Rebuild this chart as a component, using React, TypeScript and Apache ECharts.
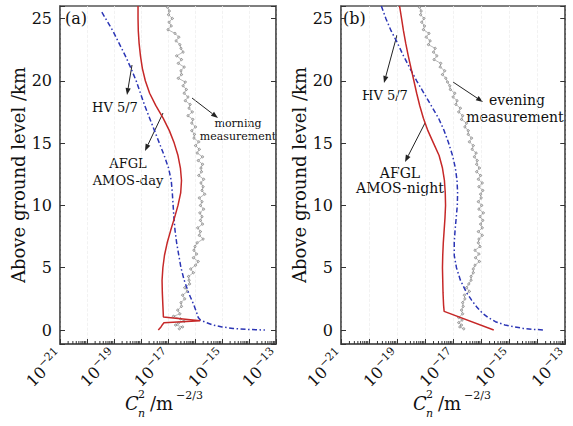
import React, { useEffect, useRef } from "react";
import * as echarts from "echarts";

// ---- data (heights in km, values as log10 of Cn2 in m^-2/3) ----
const redA_h = [26, 25, 24, 23, 22, 21, 20, 19, 18, 17, 16, 15, 14, 13, 12, 11, 10, 9, 8, 7, 6, 5, 4, 3, 2, 1.05, 0.75, 0.58, 0.45, 0.25, 0.0];
const redA_v = [-18.11, -18.11, -18.1, -18.07, -18.02, -17.95, -17.84, -17.68, -17.45, -17.18, -16.95, -16.77, -16.63, -16.54, -16.5, -16.53, -16.63, -16.76, -16.9, -17.03, -17.13, -17.19, -17.22, -17.21, -17.19, -17.17, -15.81, -17.15, -17.2, -17.26, -17.36];

const blueA_h = [25.5, 24, 23, 22, 21, 20, 19, 18, 17, 16, 15, 14, 13, 12, 11, 10, 9, 8, 7, 6, 5, 4, 3, 2, 1.4, 1.0, 0.8, 0.6, 0.4, 0.25, 0.13, 0.05, 0.0];
const blueA_v = [-19.45, -19.04, -18.81, -18.58, -18.37, -18.18, -18.02, -17.86, -17.68, -17.5, -17.32, -17.14, -16.98, -16.88, -16.84, -16.81, -16.78, -16.74, -16.68, -16.6, -16.52, -16.4, -16.24, -16.04, -15.94, -15.88, -15.8, -15.58, -15.33, -15.0, -14.59, -14.1, -13.41];

const morning_h = [25.9, 25.6, 25.3, 25.0, 24.7, 24.4, 24.1, 23.8, 23.5, 23.2, 22.9, 22.6, 22.3, 22.0, 21.7, 21.4, 21.1, 20.8, 20.5, 20.2, 19.9, 19.6, 19.3, 19.0, 18.7, 18.4, 18.1, 17.8, 17.5, 17.2, 16.9, 16.6, 16.3, 16.0, 15.7, 15.4, 15.1, 14.8, 14.5, 14.2, 13.9, 13.6, 13.3, 13.0, 12.7, 12.4, 12.1, 11.8, 11.5, 11.2, 10.9, 10.6, 10.3, 10.0, 9.7, 9.4, 9.1, 8.8, 8.5, 8.2, 7.9, 7.6, 7.3, 7.0, 6.7, 6.4, 6.1, 5.8, 5.5, 5.2, 4.9, 4.6, 4.3, 4.0, 3.7, 3.4, 3.1, 2.8, 2.5, 2.2, 1.9, 1.6, 1.3, 1.1, 0.9, 0.7, 0.55, 0.4, 0.25, 0.1];
const morning_v = [-17.02, -16.95, -16.98, -16.84, -16.96, -16.88, -17.0, -16.74, -16.6, -16.7, -16.56, -16.52, -16.44, -16.68, -16.5, -16.62, -16.4, -16.52, -16.5, -16.62, -16.36, -16.44, -16.32, -16.4, -16.26, -16.36, -16.18, -16.22, -16.1, -16.26, -16.08, -16.12, -15.98, -16.12, -16.02, -16.04, -15.86, -15.98, -15.84, -15.92, -15.72, -15.88, -15.72, -15.78, -15.76, -15.86, -15.68, -15.78, -15.7, -15.74, -15.64, -15.84, -15.74, -15.8, -15.68, -15.82, -15.74, -15.8, -15.72, -15.9, -15.8, -15.84, -15.7, -15.92, -16.0, -16.04, -15.94, -16.06, -15.88, -15.98, -16.16, -16.06, -16.24, -16.22, -16.2, -16.38, -16.28, -16.46, -16.38, -16.52, -16.5, -16.64, -16.56, -16.8, -16.54, -16.4, -16.62, -16.72, -16.46, -16.58];

const redB_h = [26, 25, 24, 23, 22, 21, 20, 19, 18, 17, 16, 15, 14, 13, 12, 11, 10, 9, 8, 7, 6, 5, 4, 3, 2, 1.5, 0.0];
const redB_v = [-18.91, -18.84, -18.77, -18.69, -18.6, -18.5, -18.4, -18.3, -18.19, -18.06, -17.9, -17.7, -17.5, -17.38, -17.31, -17.28, -17.27, -17.29, -17.32, -17.35, -17.37, -17.38, -17.37, -17.36, -17.34, -17.32, -15.55];

const blueB_h = [26, 25, 24, 23, 22, 21, 20, 19, 18, 17, 16, 15, 14, 13, 12, 11, 10, 9, 8, 7, 6, 5, 4, 3, 2.4, 1.8, 1.35, 1.0, 0.67, 0.4, 0.25, 0.13, 0.05, 0.0];
const blueB_v = [-19.56, -19.4, -19.21, -18.98, -18.77, -18.54, -18.3, -18.04, -17.78, -17.52, -17.32, -17.16, -17.02, -16.92, -16.86, -16.84, -16.85, -16.89, -16.93, -16.96, -16.96, -16.88, -16.74, -16.52, -16.34, -16.14, -15.95, -15.75, -15.49, -15.15, -14.8, -14.5, -14.1, -13.71];

const evening_h = [25.9, 25.6, 25.3, 25.0, 24.7, 24.4, 24.1, 23.8, 23.5, 23.2, 22.9, 22.6, 22.3, 22.0, 21.7, 21.4, 21.1, 20.8, 20.5, 20.2, 19.9, 19.6, 19.3, 19.0, 18.7, 18.4, 18.1, 17.8, 17.5, 17.2, 16.9, 16.6, 16.3, 16.0, 15.7, 15.4, 15.1, 14.8, 14.5, 14.2, 13.9, 13.6, 13.3, 13.0, 12.7, 12.4, 12.1, 11.8, 11.5, 11.2, 10.9, 10.6, 10.3, 10.0, 9.7, 9.4, 9.1, 8.8, 8.5, 8.2, 7.9, 7.6, 7.3, 7.0, 6.7, 6.4, 6.1, 5.8, 5.5, 5.2, 4.9, 4.6, 4.3, 4.0, 3.7, 3.4, 3.1, 2.8, 2.5, 2.2, 1.9, 1.6, 1.3, 1.0, 0.8, 0.6, 0.4, 0.25, 0.1];
const evening_v = [-18.2, -18.14, -18.16, -18.04, -18.12, -18.02, -18.06, -17.86, -17.96, -17.82, -17.88, -17.64, -17.7, -17.58, -17.68, -17.44, -17.46, -17.3, -17.38, -17.26, -17.2, -17.12, -17.1, -16.94, -17.0, -16.86, -16.9, -16.74, -16.8, -16.66, -16.7, -16.52, -16.58, -16.46, -16.46, -16.34, -16.42, -16.28, -16.32, -16.18, -16.24, -16.14, -16.16, -16.06, -16.16, -16.02, -16.1, -15.96, -16.08, -15.94, -16.02, -16.0, -16.1, -15.98, -16.08, -15.92, -16.04, -15.94, -16.02, -15.96, -16.1, -15.96, -16.08, -16.1, -16.04, -16.22, -16.08, -16.2, -16.06, -16.22, -16.28, -16.28, -16.36, -16.36, -16.44, -16.52, -16.42, -16.6, -16.58, -16.66, -16.64, -16.7, -16.66, -16.8, -16.68, -16.8, -16.7, -16.76, -16.62];

const yTickValues = [0, 5, 10, 15, 20, 25];
const X_MIN_EXP = -21;
const X_MAX_EXP = -13;
const minorMultipliers = [2, 3, 4, 5, 6, 7, 8, 9];

// values are plotted in units of 1e-21 m^-2/3 to stay within float rounding limits
const OFFSET = -X_MIN_EXP;
const Y_MIN = -1.12;
const Y_MAX = 26;
const FONT = "DejaVu Serif";

function pairs(h: number[], v: number[]) {
  return h.map((hh, i) => [Math.pow(10, v[i] + OFFSET), hh]);
}

function minorTickData() {
  const out: number[][] = [];
  for (let e = X_MIN_EXP; e < X_MAX_EXP; e++) {
    minorMultipliers.forEach((m) => out.push([m * Math.pow(10, e + OFFSET), Y_MIN]));
  }
  return out;
}

function arrow(x1: number, y1: number, x2: number, y2: number) {
  const a = Math.atan2(y2 - y1, x2 - x1);
  const L = 7, W = 2.6;
  const bx = x2 - L * Math.cos(a), by = y2 - L * Math.sin(a);
  const px = -Math.sin(a), py = Math.cos(a);
  return [
    { type: "line", silent: true, shape: { x1, y1, x2: bx, y2: by }, style: { stroke: "#222", lineWidth: 1 } },
    { type: "polygon", silent: true, shape: { points: [[x2, y2], [bx + W * px, by + W * py], [bx - W * px, by - W * py]] }, style: { fill: "#222" } },
  ];
}

function txt(x: number, y: number, text: string, size: number, extra: any = {}) {
  return {
    type: "text",
    x,
    y,
    silent: true,
    style: { text, fontSize: size, fontFamily: FONT, fill: "#111", align: "center", verticalAlign: "middle", ...extra },
  };
}

function xName(x0: number) {
  return [
    txt(x0, 403, "C", 18, { fontStyle: "italic", align: "left" }),
    txt(x0 + 13, 394, "2", 11, { align: "left" }),
    txt(x0 + 13, 413, "n", 11, { fontStyle: "italic", align: "left" }),
    txt(x0 + 25, 403, "/m", 18, { align: "left" }),
    txt(x0 + 51, 395, "\u22122/3", 11, { align: "left" }),
  ];
}

export default function App() {
  const ref = useRef<HTMLDivElement>(null);
  useEffect(() => {
    if (!ref.current) return;
    const chart = echarts.init(ref.current, null, { renderer: "svg" });

    const grids = [
      { left: 60, top: 6, width: 216, height: 338 },
      { left: 341, top: 6, width: 226, height: 338 },
    ];

    const xAxes = [0, 1].map((i) => ({
      type: "log",
      logBase: 10,
      gridIndex: i,
      min: Math.pow(10, X_MIN_EXP + OFFSET),
      max: Math.pow(10, X_MAX_EXP + OFFSET),
      splitNumber: 8,
      axisLine: { show: true, onZero: false, lineStyle: { color: "#555", width: 1.5 } },
      axisTick: { show: true, inside: true, length: 5, lineStyle: { color: "#333" } },
      splitLine: { show: true, lineStyle: { color: "#efefef", type: "dashed", width: 0.8 } },
      axisLabel: {
        rotate: 45,
        margin: 9,
        showMinLabel: true,
        showMaxLabel: true,
        formatter: (v: number) => {
          const e = Math.round(Math.log10(v)) - OFFSET;
          if (Math.abs(e) % 2 !== 1) return "";
          return "{b|10}{s|\u2212" + Math.abs(e) + "}";
        },
        rich: {
          b: { fontSize: 16, fontFamily: FONT, color: "#111", lineHeight: 22 },
          s: { fontSize: 11, fontFamily: FONT, color: "#111", verticalAlign: "top", lineHeight: 12 },
        },
      },
    }));

    const yAxes: any[] = [];
    [0, 1].forEach((i) => {
      yAxes.push({
        type: "value",
        gridIndex: i,
        min: Y_MIN,
        max: Y_MAX,
        splitNumber: 5,
        name: "Above ground level /km",
        nameLocation: "middle",
        nameGap: i === 0 ? 24 : 30,
        nameTextStyle: { fontSize: 18, fontFamily: FONT, color: "#111" },
        axisLine: { show: true, onZero: false, lineStyle: { color: "#555", width: 1.5 } },
        axisTick: { show: true, inside: true, length: 5, lineStyle: { color: "#333" } },
        splitLine: { show: false },
        axisLabel: {
          fontSize: 16,
          fontFamily: FONT,
          color: "#111",
          margin: 8,
          formatter: (v: number) => (yTickValues.indexOf(v) >= 0 ? String(v) : ""),
        },
      });
      yAxes.push({
        type: "value",
        gridIndex: i,
        position: "right",
        min: Y_MIN,
        max: Y_MAX,
        splitNumber: 5,
        axisLine: { show: true, onZero: false, lineStyle: { color: "#555", width: 1.5 } },
        axisTick: { show: true, inside: true, length: 5, lineStyle: { color: "#333" } },
        splitLine: { show: false },
        axisLabel: { show: false },
      });
    });

    const measStyle = {
      type: "line",
      symbol: "circle",
      symbolSize: 2.2,
      showSymbol: true,
      itemStyle: { color: "#ddd", borderColor: "#555", borderWidth: 0.5 },
      lineStyle: { color: "#999", width: 0.7 },
      z: 2,
    };
    const redStyle = { type: "line", showSymbol: false, lineStyle: { color: "#c62828", width: 1.5 }, z: 4 };
    const blueStyle = { type: "line", showSymbol: false, lineStyle: { color: "#2b35b5", width: 1.5, type: [5, 2.5, 1.5, 2.5] }, z: 3 };

    const minorTicks = (i: number) => ({
      type: "custom",
      xAxisIndex: i,
      yAxisIndex: i * 2,
      silent: true,
      z: 5,
      data: minorTickData(),
      renderItem: (params: any, api: any) => {
        const p = api.coord([api.value(0), api.value(1)]);
        return {
          type: "line",
          shape: { x1: p[0], y1: p[1], x2: p[0], y2: p[1] - 3 },
          style: { stroke: "#333", lineWidth: 1 },
        };
      },
    });

    const series: any[] = [
      { ...measStyle, name: "morning measurement", xAxisIndex: 0, yAxisIndex: 0, data: pairs(morning_h, morning_v) },
      { ...blueStyle, name: "HV 5/7 (a)", xAxisIndex: 0, yAxisIndex: 0, data: pairs(blueA_h, blueA_v) },
      { ...redStyle, name: "AFGL AMOS-day", xAxisIndex: 0, yAxisIndex: 0, data: pairs(redA_h, redA_v) },
      minorTicks(0),
      { ...measStyle, name: "evening measurement", xAxisIndex: 1, yAxisIndex: 2, data: pairs(evening_h, evening_v) },
      { ...blueStyle, name: "HV 5/7 (b)", xAxisIndex: 1, yAxisIndex: 2, data: pairs(blueB_h, blueB_v) },
      { ...redStyle, name: "AFGL AMOS-night", xAxisIndex: 1, yAxisIndex: 2, data: pairs(redB_h, redB_v) },
      minorTicks(1),
    ];

    const graphics: any[] = [
      txt(65, 18, "(a)", 16, { align: "left" }),
      txt(343, 18, "(b)", 16, { align: "left" }),
      ...arrow(132, 65, 127, 95),
      txt(115, 107, "HV 5/7", 13),
      ...arrow(163, 113, 145, 151),
      txt(128, 163, "AFGL", 13),
      txt(128, 180, "AMOS-day", 13),
      ...arrow(192, 98, 218, 118),
      txt(238, 123, "morning", 11),
      txt(238, 136, "measurement", 11),
      ...arrow(397, 35, 384, 83),
      txt(385, 95, "HV 5/7", 13),
      ...arrow(425, 123, 405, 162),
      txt(400, 173, "AFGL", 14),
      txt(400, 188, "AMOS-night", 14),
      ...arrow(453, 82, 483, 102),
      txt(517, 100, "evening", 14),
      txt(515, 117, "measurement", 14),
      ...xName(125),
      ...xName(413),
    ];

    chart.setOption({
      animation: false,
      backgroundColor: "#fff",
      textStyle: { fontFamily: FONT },
      grid: grids.map((g) => ({ ...g, show: true, borderColor: "#555", borderWidth: 1.5, containLabel: false })),
      xAxis: xAxes,
      yAxis: yAxes,
      series,
      graphic: graphics,
    });
    return () => chart.dispose();
  }, []);
  return <div ref={ref} style={{ position: "fixed", left: 0, top: 0, width: 573, height: 426, background: "#fff" }} />;
}
